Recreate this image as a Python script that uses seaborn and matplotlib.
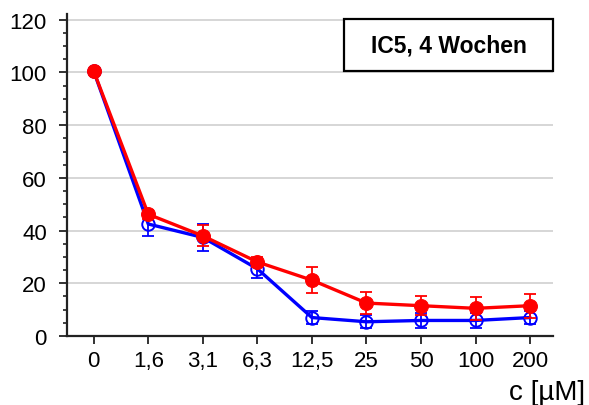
import matplotlib
matplotlib.use("Agg")
import matplotlib.pyplot as plt
from matplotlib.patches import Rectangle
from matplotlib.ticker import MultipleLocator
import seaborn as sns
import pandas as pd
import numpy as np

# Concentrations (µM) shown as evenly spaced categories
concentrations = ["0", "1,6", "3,1", "6,3", "12,5", "25", "50", "100", "200"]

# Blue series: mean and standard deviation
blue_mean = [100.5, 42.5, 37.4, 25.5, 7.0, 5.4, 5.9, 5.9, 7.0]
blue_sd = [0.5, 4.5, 5.0, 3.5, 2.4, 2.5, 2.8, 3.0, 2.5]

# Red series: mean and standard deviation
red_mean = [100.5, 46.2, 38.0, 28.1, 21.2, 12.5, 11.5, 10.5, 11.5]
red_sd = [0.5, 1.8, 4.0, 2.0, 4.8, 4.2, 3.6, 4.4, 4.6]

title_text = "IC5, 4 Wochen"
x_label = "c [µM]"

sns.set_theme(style="white")
plt.rcParams["font.family"] = ["Liberation Sans", "DejaVu Sans"]

pos = np.arange(len(concentrations))
df = pd.DataFrame({
    "pos": np.concatenate([pos, pos]),
    "value": blue_mean + red_mean,
    "series": ["blue"] * len(pos) + ["red"] * len(pos),
})

fig = plt.figure(figsize=(5.89, 4.06), dpi=100)
ax = fig.add_axes([67 / 589, 1 - 337 / 406, (553 - 67) / 589, (337 - 15) / 406])

# Light horizontal grid
for yv in range(20, 121, 20):
    ax.axhline(yv, color="#d0d0d0", lw=1.2, zorder=0)

# Blue series (open circles)
sns.lineplot(data=df[df.series == "blue"], x="pos", y="value", ax=ax,
             color="#0000ff", lw=2.4, marker="o", markersize=9,
             markerfacecolor="none", markeredgecolor="#0000ff",
             markeredgewidth=1.4, zorder=3, legend=False)
ax.errorbar(pos, blue_mean, yerr=blue_sd, fmt="none", ecolor="#0000ff",
            elinewidth=1.3, capsize=4.5, capthick=1.3, zorder=3)

# Red series (filled circles)
sns.lineplot(data=df[df.series == "red"], x="pos", y="value", ax=ax,
             color="#ff0000", lw=2.4, marker="o", markersize=10,
             markerfacecolor="#ff0000", markeredgecolor="#ff0000",
             zorder=4, legend=False)
ax.errorbar(pos, red_mean, yerr=red_sd, fmt="none", ecolor="#ff0000",
            elinewidth=1.3, capsize=4.5, capthick=1.3, zorder=4)

ax.set_xlim(-0.49, 8.42)
ax.set_ylim(0, 122.2)
ax.set_xticks(pos)
ax.set_xticklabels(concentrations)
ax.set_yticks(range(0, 121, 20))
ax.yaxis.set_minor_locator(MultipleLocator(5))
ax.set_xlabel("")
ax.set_ylabel("")

for side in ["top", "right"]:
    ax.spines[side].set_visible(False)
for side in ["left", "bottom"]:
    ax.spines[side].set_color("#222222")
    ax.spines[side].set_linewidth(1.6)

ax.tick_params(axis="both", which="major", direction="out", length=6,
               width=1.3, color="#222222", labelsize=16, labelcolor="black")
ax.tick_params(axis="y", which="minor", direction="out", length=3,
               width=1.2, color="#222222", left=True)
ax.tick_params(axis="x", which="major", bottom=True, pad=4)
ax.tick_params(axis="y", which="major", left=True, pad=8.5)

# Axis title at bottom right
fig.text(585 / 589, 1 - 400 / 406, x_label, ha="right", va="baseline",
         fontsize=20, color="black")

# Boxed title
box = Rectangle((344 / 589, 1 - 72 / 406), 209 / 589, 52 / 406,
                transform=fig.transFigure, facecolor="white",
                edgecolor="black", lw=1.6, zorder=10)
fig.patches.append(box)
fig.text(448.5 / 589, 1 - 46 / 406, title_text, ha="center", va="center",
         fontsize=16.5, fontweight="bold", color="black", zorder=11)

fig.savefig("out.png", dpi=100)
